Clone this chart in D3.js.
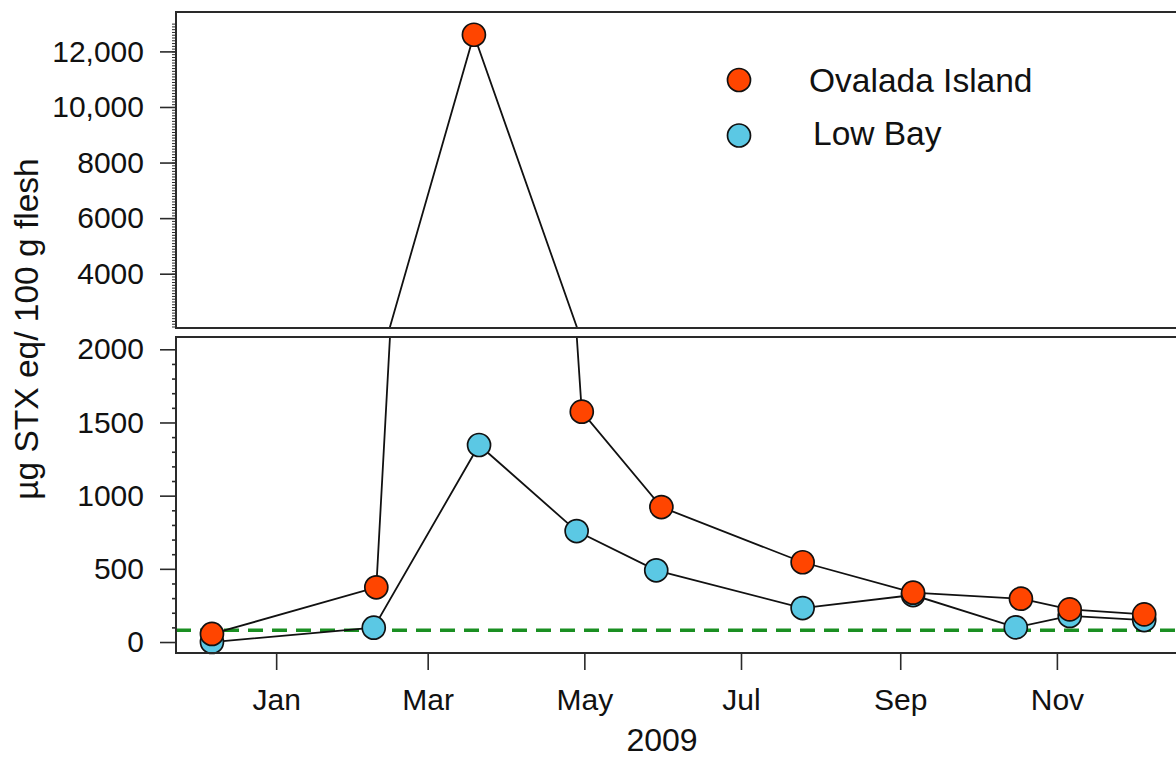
<!DOCTYPE html>
<html>
<head>
<meta charset="utf-8">
<script src="https://cdn.jsdelivr.net/npm/d3@7"></script>
<style>
  html, body { margin: 0; padding: 0; background: #fff; }
  svg { display: block; font-family: "Liberation Sans", Arial, Helvetica, sans-serif; }
</style>
</head>
<body>
<svg id="chart" width="1176" height="760"></svg>
<script>
// ---------------- data ----------------
const ovaladaDates  = ["2008-12-07","2009-02-09","2009-03-19","2009-04-30","2009-05-31","2009-07-25","2009-09-06","2009-10-18","2009-11-06","2009-12-05"];
const ovaladaValues = [55, 374, 12600, 1574, 922, 545, 337, 296, 223, 189];
const lowBayDates   = ["2008-12-07","2009-02-08","2009-03-21","2009-04-28","2009-05-29","2009-07-25","2009-09-06","2009-10-16","2009-11-06","2009-12-05"];
const lowBayValues  = [0, 98, 1346, 758, 490, 232, 321, 100, 178, 150];
const regulatoryLimit = 80;

const monthTickDates  = ["2009-01-01","2009-03-01","2009-05-01","2009-07-01","2009-09-01","2009-11-01"];
const monthTickLabels = ["Jan","Mar","May","Jul","Sep","Nov"];
const lowTicks       = [0, 500, 1000, 1500, 2000];
const lowTickLabels  = ["0","500","1000","1500","2000"];
const highTicks      = [4000, 6000, 8000, 10000, 12000];
const highTickLabels = ["4000","6000","8000","10,000","12,000"];
const seriesNames  = ["Ovalada Island","Low Bay"];
const seriesColors = ["#ff4500","#5bc8e4"];

// ---------------- layout ----------------
const parse = d3.utcParse("%Y-%m-%d");
const svg = d3.select("#chart");
const left = 176, right = 1193;
const topPanel = {y0: 12, y1: 328};
const lowPanel = {y0: 337, y1: 653};

const x = d3.scaleUtc()
  .domain([parse("2008-11-23"), parse("2009-12-24")])
  .range([left, right]);
const yHigh = d3.scaleLinear().domain([2046, 13418]).range([topPanel.y1, topPanel.y0]);
const yLow  = d3.scaleLinear().domain([-75, 2084]).range([lowPanel.y1, lowPanel.y0]);

const series = [
  {name: seriesNames[0], color: seriesColors[0], pts: ovaladaDates.map((d,i)=>({date: parse(d), v: ovaladaValues[i]}))},
  {name: seriesNames[1], color: seriesColors[1], pts: lowBayDates.map((d,i)=>({date: parse(d), v: lowBayValues[i]}))}
];

const defs = svg.append("defs");
[["clipTop", topPanel], ["clipLow", lowPanel]].forEach(([id, p]) => {
  defs.append("clipPath").attr("id", id).append("rect")
    .attr("x", left).attr("y", p.y0).attr("width", right - left).attr("height", p.y1 - p.y0);
});

function drawPanel(y, panel, clipId, keep) {
  const g = svg.append("g");
  const lineGen = d3.line().x(d => x(d.date)).y(d => y(d.v));
  const drawOrder = [series[1], series[0]];
  drawOrder.forEach(s => {
    g.append("path").datum(s.pts)
      .attr("clip-path", `url(#${clipId})`)
      .attr("d", lineGen)
      .attr("fill", "none").attr("stroke", "#111").attr("stroke-width", 1.8);
  });
  drawOrder.forEach(s => {
    g.selectAll(null).data(s.pts.filter(keep)).enter().append("circle")
      .attr("cx", d => x(d.date)).attr("cy", d => y(d.v)).attr("r", 11.5)
      .attr("fill", s.color).attr("stroke", "#111").attr("stroke-width", 1.7);
  });
  return g;
}

// dashed regulatory limit (lower panel)
svg.append("line")
  .attr("clip-path", "url(#clipLow)")
  .attr("x1", left).attr("x2", right)
  .attr("y1", yLow(regulatoryLimit)).attr("y2", yLow(regulatoryLimit))
  .attr("stroke", "#1a8f22").attr("stroke-width", 3.5)
  .attr("stroke-dasharray", "15,9");

drawPanel(yHigh, topPanel, "clipTop", d => d.v >= yHigh.domain()[0]);
drawPanel(yLow, lowPanel, "clipLow", d => d.v <= yLow.domain()[1]);

// panel boxes
[topPanel, lowPanel].forEach(p => {
  svg.append("rect").attr("x", left).attr("y", p.y0)
    .attr("width", right - left).attr("height", p.y1 - p.y0)
    .attr("fill", "none").attr("stroke", "#2a2a2a").attr("stroke-width", 2);
});

// y axes
function styleAxis(g) {
  g.select(".domain").remove();
  g.selectAll(".tick line").attr("stroke", "#2a2a2a").attr("stroke-width", 1.6);
  g.selectAll(".tick text").attr("fill", "#111").style("font-size", "30px")
    .style("font-family", "'Liberation Sans', Arial, sans-serif");
}
const minorLow = d3.range(100, 2000, 100).filter(v => v % 500 !== 0);
const minorHigh = d3.range(2100, 13001, 100);

svg.append("g").attr("transform", `translate(${left},0)`)
  .call(d3.axisLeft(yLow).tickValues(minorLow).tickFormat("").tickSize(4))
  .call(styleAxis);
svg.append("g").attr("transform", `translate(${left},0)`)
  .call(d3.axisLeft(yHigh).tickValues(minorHigh).tickFormat("").tickSize(4))
  .call(g => { styleAxis(g); g.selectAll(".tick line").attr("stroke-width", 1); });

svg.append("g").attr("transform", `translate(${left},0)`)
  .call(d3.axisLeft(yLow).tickValues(lowTicks).tickFormat((d,i) => lowTickLabels[i]).tickSize(16).tickPadding(16))
  .call(styleAxis);
svg.append("g").attr("transform", `translate(${left},0)`)
  .call(d3.axisLeft(yHigh).tickValues(highTicks).tickFormat((d,i) => highTickLabels[i]).tickSize(16).tickPadding(16))
  .call(styleAxis);

// x axis
svg.append("g").attr("transform", `translate(0,${lowPanel.y1})`)
  .call(d3.axisBottom(x).tickValues(monthTickDates.map(parse)).tickFormat((d,i) => monthTickLabels[i]).tickSize(17).tickPadding(19))
  .call(styleAxis);

// axis titles
svg.append("text").attr("x", 662).attr("y", 751).attr("text-anchor", "middle")
  .style("font-size", "32px").attr("fill", "#111").text("2009");
svg.append("text").attr("transform", "translate(38,329) rotate(-90)").attr("text-anchor", "middle")
  .style("font-size", "33.5px").attr("fill", "#111").text("µg STX eq/ 100 g flesh");

// legend
const legendY = [80, 135.5];
const legendTextX = [809, 813];
const legendBase = [92, 145];
series.forEach((s, i) => {
  svg.append("circle").attr("cx", 739).attr("cy", legendY[i]).attr("r", 11.5)
    .attr("fill", s.color).attr("stroke", "#111").attr("stroke-width", 1.7);
  svg.append("text").attr("x", legendTextX[i]).attr("y", legendBase[i])
    .style("font-size", "33.5px").attr("fill", "#111").text(s.name);
});
</script>
</body>
</html>
